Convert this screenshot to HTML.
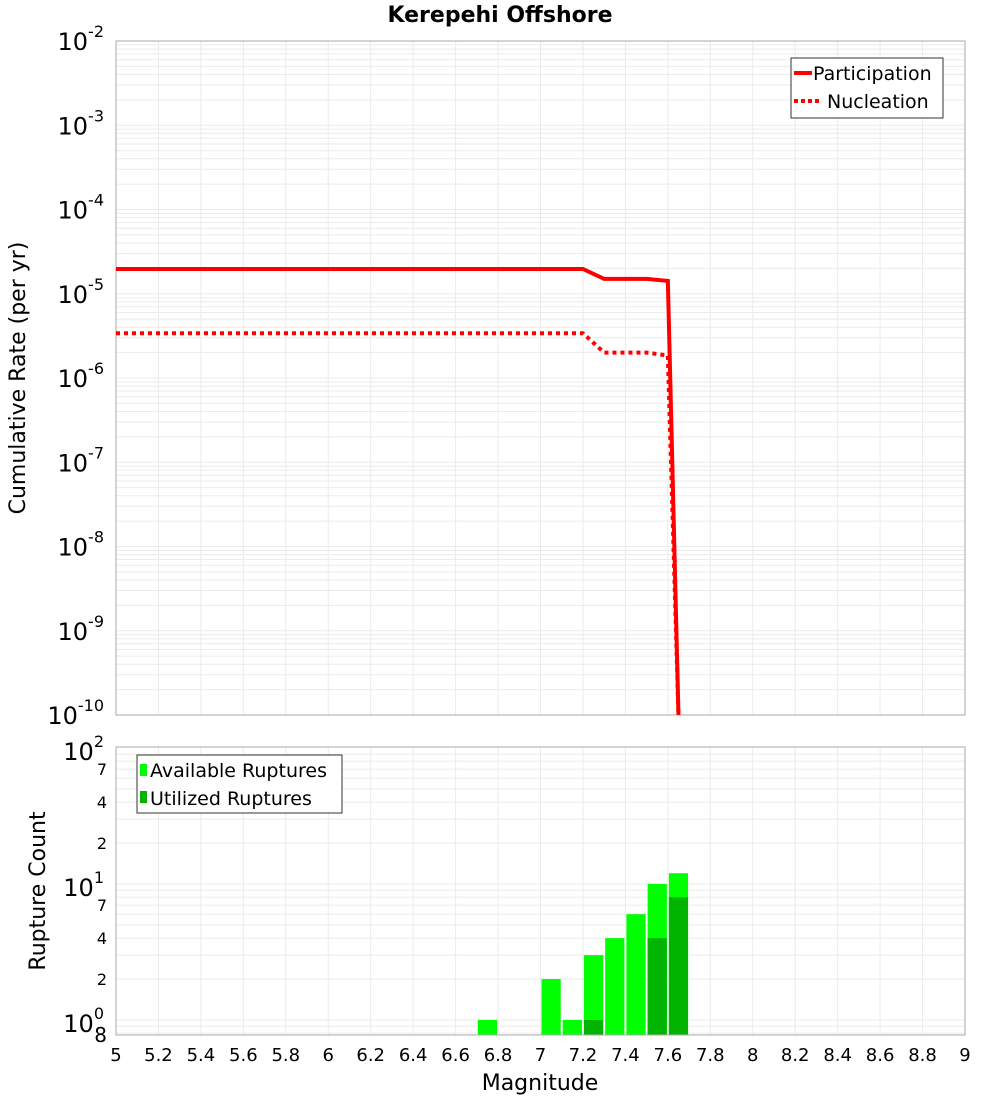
<!DOCTYPE html>
<html><head><meta charset="utf-8"><style>
body{margin:0;background:#fff;font-family:"DejaVu Sans","Liberation Sans",sans-serif;}
</style></head><body>
<svg id="c" width="1000" height="1100" xmlns="http://www.w3.org/2000/svg" font-family="DejaVu Sans, Liberation Sans, sans-serif"></svg>
<script>
const partX=[5,5.1,5.2,5.3,5.4,5.5,5.6,5.7,5.8,5.9,6,6.1,6.2,6.3,6.4,6.5,6.6,6.7,6.8,6.9,7,7.1,7.2,7.3,7.4,7.5,7.6,7.65];
const partY=[1.97e-5,1.97e-5,1.97e-5,1.97e-5,1.97e-5,1.97e-5,1.97e-5,1.97e-5,1.97e-5,1.97e-5,1.97e-5,1.97e-5,1.97e-5,1.97e-5,1.97e-5,1.97e-5,1.97e-5,1.97e-5,1.97e-5,1.97e-5,1.97e-5,1.97e-5,1.97e-5,1.5e-5,1.5e-5,1.5e-5,1.42e-5,1e-10];
const nuclY=[3.4e-6,3.4e-6,3.4e-6,3.4e-6,3.4e-6,3.4e-6,3.4e-6,3.4e-6,3.4e-6,3.4e-6,3.4e-6,3.4e-6,3.4e-6,3.4e-6,3.4e-6,3.4e-6,3.4e-6,3.4e-6,3.4e-6,3.4e-6,3.4e-6,3.4e-6,3.4e-6,2e-6,2e-6,2e-6,1.85e-6,1e-10];
const binCenters=[6.75,7.05,7.15,7.25,7.35,7.45,7.55,7.65];
const availCounts=[1,2,1,3,4,6,10,12];
const utilCounts=[0,0,0,1,0,0,4,8];
const xTicks=[5,5.2,5.4,5.6,5.8,6,6.2,6.4,6.6,6.8,7,7.2,7.4,7.6,7.8,8,8.2,8.4,8.6,8.8,9];
const topExps=[-10,-9,-8,-7,-6,-5,-4,-3,-2];
const botMinor=[{v:2,t:"2"},{v:4,t:"4"},{v:7,t:"7"},{v:20,t:"2"},{v:40,t:"4"},{v:70,t:"7"}];

const svg=document.getElementById('c');
const NS="http://www.w3.org/2000/svg";
function el(tag,attrs,parent,txt){const e=document.createElementNS(NS,tag);for(const k in attrs)e.setAttribute(k,attrs[k]);if(txt!==undefined)e.textContent=txt;(parent||svg).appendChild(e);return e;}
const L=116,R=965,T1=41,B1=715,T2=747,B2=1035;
const sx=v=>L+(v-5)/4*(R-L);
const sy1=v=>B1-(Math.log10(v)+10)*(B1-T1)/8;
const P2=136, Y1=1020;
const sy2=v=>Y1-Math.log10(v)*P2;

// title
let t=el('text',{x:500,y:22,'text-anchor':'middle','font-size':22,'font-weight':'bold'},svg,'Kerepehi Offshore');


// top panel grid
let g1=el('g',{});
for(let e=-10;e<-2;e++)for(let m=1;m<10;m++){const y=sy1(m*Math.pow(10,e));el('line',{x1:L,x2:R,y1:y,y2:y,stroke:'#ebebeb','stroke-width':1},g1);}
xTicks.forEach(v=>{el('line',{x1:sx(v),x2:sx(v),y1:T1,y2:B1,stroke:'#ebebeb'},g1);});
let f1=el('rect',{x:L,y:T1,width:R-L,height:B1-T1,fill:'none',stroke:'#aaa'});

topExps.forEach(e=>{const y=sy1(Math.pow(10,e));
 let tx=el('text',{x:104,y:y+9,'text-anchor':'end','font-size':24});
 
 el('tspan',{},tx,'10');el('tspan',{dy:-13,'font-size':16},tx,String(e));});
let yt=el('text',{x:0,y:0,'font-size':22,'text-anchor':'middle',transform:'translate(25,378) rotate(-90)'},svg,'Cumulative Rate (per yr)');


// lines
let clip=el('clipPath',{id:'cp1'});el('rect',{x:L,y:T1,width:R-L,height:B1-T1},clip);
const pts=ys=>partX.map((x,i)=>sx(x)+','+sy1(ys[i])).join(' ');
let nl=el('polyline',{points:pts(nuclY),fill:'none',stroke:'#f00','stroke-width':4,'stroke-dasharray':'4,4','clip-path':'url(#cp1)'});

let pl=el('polyline',{points:pts(partY),fill:'none',stroke:'#f00','stroke-width':4,'clip-path':'url(#cp1)'});


// legend top
let lg=el('g',{});
el('rect',{x:791,y:58,width:152,height:60,fill:'#fff',stroke:'#333'},lg);
el('line',{x1:794,x2:812,y1:73,y2:73,stroke:'#f00','stroke-width':4},lg);
el('text',{x:813,y:80,'font-size':19},lg,'Participation');
el('line',{x1:794,x2:822,y1:101,y2:101,stroke:'#f00','stroke-width':4,'stroke-dasharray':'4,3'},lg);
el('text',{x:827,y:108,'font-size':19},lg,'Nucleation');

// bottom panel grid
let g2=el('g',{});
[0.8,0.9,1,2,3,4,5,6,7,8,9,10,20,30,40,50,60,70,80,90].forEach(v=>{const y=sy2(v);el('line',{x1:L,x2:R,y1:y,y2:y,stroke:'#ebebeb'},g2);});
xTicks.forEach(v=>{el('line',{x1:sx(v),x2:sx(v),y1:T2,y2:B2,stroke:'#ebebeb'},g2);});

// bars
const bw=(R-L)/40;
binCenters.forEach((c,i)=>{
 const x=sx(c)-bw/2+1,w=bw-2;
 let b=el('rect',{x:x,y:sy2(availCounts[i]),width:w,height:B2-sy2(availCounts[i]),fill:'#00ff00'});
 
 if(utilCounts[i]>0){let u=el('rect',{x:x,y:sy2(utilCounts[i]),width:w,height:B2-sy2(utilCounts[i]),fill:'#00b400'});
 }
});
let f2=el('rect',{x:L,y:T2,width:R-L,height:B2-T2,fill:'none',stroke:'#aaa'});


[0,1,2].forEach(e=>{const y=sy2(Math.pow(10,e));
 let tx=el('text',{x:104,y:y+12,'text-anchor':'end','font-size':24});
 
 el('tspan',{},tx,'10');el('tspan',{dy:-13,'font-size':16},tx,String(e));});
botMinor.forEach(o=>{let tx=el('text',{x:107,y:sy2(o.v)+6,'text-anchor':'end','font-size':16},svg,o.t);
 });
let e8=el('text',{x:107,y:1042,'text-anchor':'end','font-size':20},svg,'8');

let yt2=el('text',{x:0,y:0,'font-size':22,'text-anchor':'middle',transform:'translate(45,891) rotate(-90)'},svg,'Rupture Count');


xTicks.forEach(v=>{let tx=el('text',{x:sx(v),y:1061,'text-anchor':'middle','font-size':18},svg,String(v));
 });
let xt=el('text',{x:540,y:1090,'text-anchor':'middle','font-size':22},svg,'Magnitude');


// legend bottom
let lg2=el('g',{});
el('rect',{x:137,y:755,width:205,height:58,fill:'#fff',stroke:'#333'},lg2);
el('rect',{x:140,y:764,width:7,height:12,fill:'#00ff00'},lg2);
el('text',{x:150,y:777,'font-size':19},lg2,'Available Ruptures');
el('rect',{x:140,y:791,width:7,height:12,fill:'#00b400'},lg2);
el('text',{x:150,y:805,'font-size':19},lg2,'Utilized Ruptures');
</script>
</body></html>
